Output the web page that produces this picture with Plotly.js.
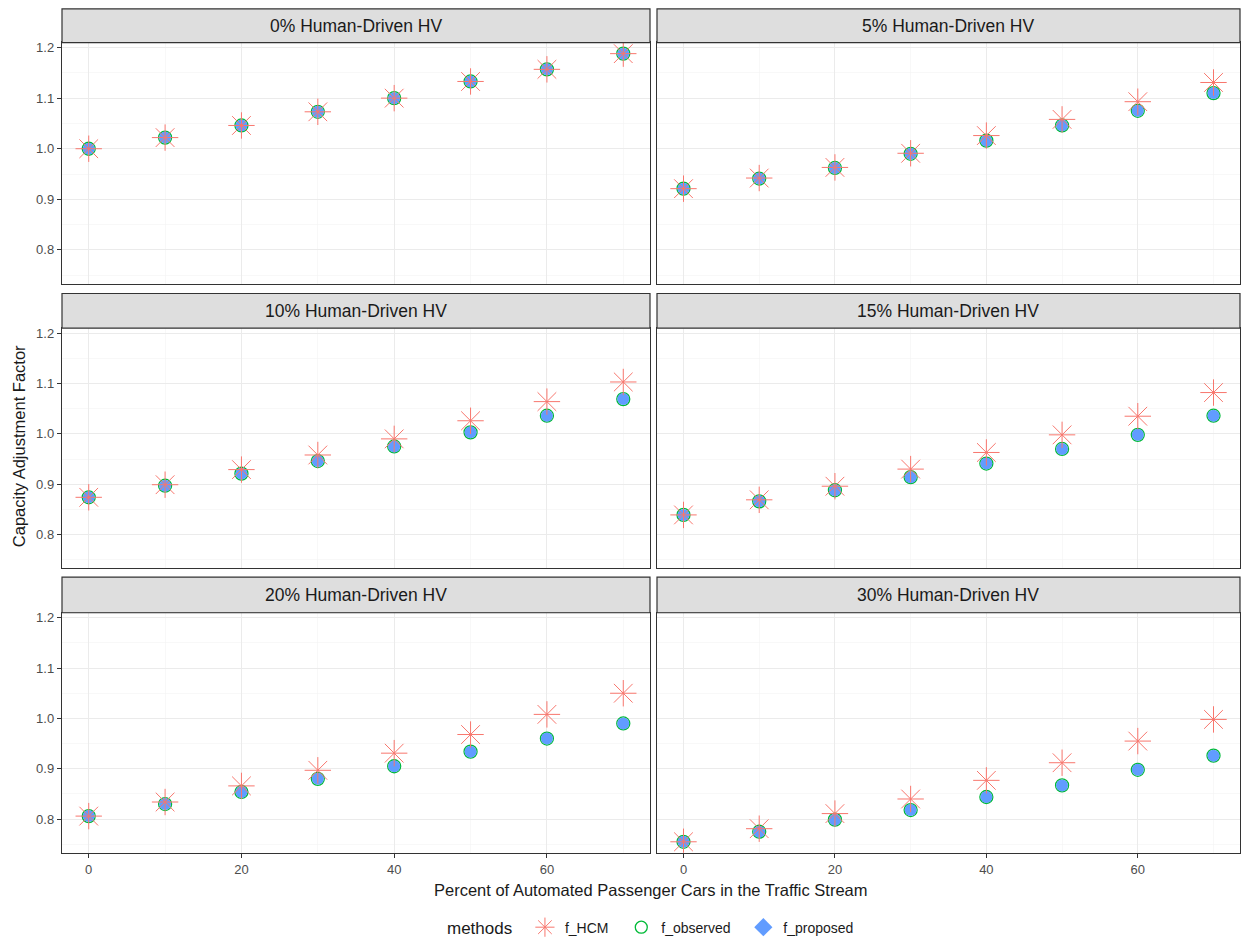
<!DOCTYPE html>
<html>
<head>
<meta charset="utf-8">
<script src="https://cdn.plot.ly/plotly-3.0.1.min.js"></script>
<style>html,body{margin:0;padding:0;background:#fff;}#chart{width:1242px;height:945px;}</style>
</head>
<body>
<div id="chart"></div>
<script>
// ---- data ----
const xPct = [0, 10, 20, 30, 40, 50, 60, 70];
const panelTitles = ['0% Human-Driven HV', '5% Human-Driven HV', '10% Human-Driven HV',
                     '15% Human-Driven HV', '20% Human-Driven HV', '30% Human-Driven HV'];
const methods = ['f_HCM', 'f_observed', 'f_proposed'];

const hcm_0  = [1.000, 1.022, 1.046, 1.073, 1.100, 1.133, 1.157, 1.188];
const obs_0  = [1.000, 1.022, 1.046, 1.073, 1.100, 1.133, 1.157, 1.188];
const prop_0 = [1.000, 1.022, 1.046, 1.073, 1.100, 1.133, 1.157, 1.188];

const hcm_5  = [0.921, 0.942, 0.963, 0.991, 1.026, 1.058, 1.093, 1.131];
const obs_5  = [0.921, 0.941, 0.962, 0.990, 1.016, 1.046, 1.075, 1.110];
const prop_5 = [0.921, 0.941, 0.962, 0.990, 1.016, 1.046, 1.075, 1.110];

const hcm_10  = [0.874, 0.899, 0.929, 0.958, 0.990, 1.026, 1.064, 1.103];
const obs_10  = [0.874, 0.897, 0.921, 0.946, 0.975, 1.003, 1.036, 1.069];
const prop_10 = [0.874, 0.897, 0.921, 0.946, 0.975, 1.003, 1.036, 1.069];

const hcm_15  = [0.839, 0.869, 0.896, 0.930, 0.963, 0.998, 1.035, 1.082];
const obs_15  = [0.839, 0.866, 0.888, 0.914, 0.941, 0.970, 0.998, 1.036];
const prop_15 = [0.839, 0.866, 0.888, 0.914, 0.941, 0.970, 0.998, 1.036];

const hcm_20  = [0.806, 0.834, 0.866, 0.897, 0.931, 0.968, 1.008, 1.050];
const obs_20  = [0.806, 0.830, 0.854, 0.880, 0.905, 0.934, 0.960, 0.990];
const prop_20 = [0.806, 0.830, 0.854, 0.880, 0.905, 0.934, 0.960, 0.990];

const hcm_30  = [0.755, 0.781, 0.811, 0.840, 0.877, 0.912, 0.955, 0.998];
const obs_30  = [0.755, 0.775, 0.799, 0.818, 0.844, 0.867, 0.898, 0.926];
const prop_30 = [0.755, 0.775, 0.799, 0.818, 0.844, 0.867, 0.898, 0.926];

const hcmSeries  = [hcm_0, hcm_5, hcm_10, hcm_15, hcm_20, hcm_30];
const obsSeries  = [obs_0, obs_5, obs_10, obs_15, obs_20, obs_30];
const propSeries = [prop_0, prop_5, prop_10, prop_15, prop_20, prop_30];

// ---- styles / geometry ----
const W = 1242, H = 945;
const colHCM = '#F8766D', colObs = '#00BA38', colProp = '#619CFF';
const colX = [[62, 650], [657, 1240]];            // pixel columns
const rowY = [[43, 286], [331, 573], [618, 860]];  // plot area rows (top,bottom)
const stripY = [[9, 43], [296, 331], [582, 618]];
const px = v => v / W;
const py = v => 1 - v / H;

const traces = [];
const layout = {
  width: W, height: H,
  margin: {l: 0, r: 0, t: 0, b: 0},
  paper_bgcolor: '#ffffff', plot_bgcolor: '#ffffff',
  font: {family: 'Liberation Sans, Arial, sans-serif', color: '#1A1A1A'},
  showlegend: true,
  legend: {
    orientation: 'h', x: px(652), xanchor: 'center', y: py(936), yanchor: 'middle',
    title: {text: 'methods ', font: {size: 17, color: '#1A1A1A'}, side: 'left'},
    font: {size: 14, color: '#1A1A1A'}, itemwidth: 30, tracegroupgap: 0,
    bgcolor: 'rgba(0,0,0,0)'
  },
  shapes: [], annotations: []
};

for (let i = 0; i < 6; i++) {
  const r = Math.floor(i / 2), c = i % 2;
  const sfx = i === 0 ? '' : String(i + 1);
  const xa = 'x' + sfx, ya = 'y' + sfx;
  const isBottom = r === 2, isLeft = c === 0;
  layout['xaxis' + sfx] = {
    domain: [px(colX[c][0]), px(colX[c][1])], anchor: ya,
    range: [-3.5, 73.5], tick0: 0, dtick: 20, zeroline: false,
    showgrid: true, gridcolor: '#EBEBEB', gridwidth: 1,
    minor: {tick0: 0, dtick: 10, showgrid: true, gridcolor: '#F4F4F4', gridwidth: 0.6},
    showline: true, mirror: true, linecolor: '#333333', linewidth: 1.2,
    ticks: isBottom ? 'outside' : '', ticklen: 4, tickwidth: 1, tickcolor: '#333333',
    showticklabels: isBottom, tickfont: {size: 13, color: '#4D4D4D'}
  };
  layout['yaxis' + sfx] = {
    domain: [py(rowY[r][1]), py(rowY[r][0])], anchor: xa,
    range: [0.7333, 1.2098], tick0: 0.8, dtick: 0.1, zeroline: false,
    showgrid: true, gridcolor: '#EBEBEB', gridwidth: 1,
    minor: {tick0: 0.75, dtick: 0.05, showgrid: true, gridcolor: '#F4F4F4', gridwidth: 0.6},
    showline: true, mirror: true, linecolor: '#333333', linewidth: 1.2,
    ticks: isLeft ? 'outside' : '', ticklen: 4, tickwidth: 1, tickcolor: '#333333',
    showticklabels: isLeft, tickformat: '.1f', tickfont: {size: 13, color: '#4D4D4D'}
  };
  // strip
  layout.shapes.push({
    type: 'rect', xref: 'paper', yref: 'paper', layer: 'above',
    x0: px(colX[c][0]), x1: px(colX[c][1]), y0: py(stripY[r][1]), y1: py(stripY[r][0]),
    fillcolor: '#DEDEDE', line: {color: '#333333', width: 1.2}
  });
  layout.annotations.push({
    text: panelTitles[i], xref: 'paper', yref: 'paper', showarrow: false,
    x: px((colX[c][0] + colX[c][1]) / 2), y: py((stripY[r][0] + stripY[r][1]) / 2),
    xanchor: 'center', yanchor: 'middle', font: {size: 17.5, color: '#1A1A1A'}
  });

  traces.push({
    type: 'scatter', mode: 'markers', x: xPct, y: obsSeries[i], xaxis: xa, yaxis: ya,
    name: methods[1], legendgroup: 'obs', showlegend: false,
    marker: {symbol: 'circle-open', size: 13, color: colObs, line: {color: colObs, width: 1.3}}
  });
  traces.push({
    type: 'scatter', mode: 'markers', x: xPct, y: propSeries[i], xaxis: xa, yaxis: ya,
    name: methods[2], legendgroup: 'prop', showlegend: false,
    marker: {symbol: 'circle', size: 12, color: colProp, line: {width: 0}}
  });
  traces.push({
    type: 'scatter', mode: 'markers', x: xPct, y: hcmSeries[i], xaxis: xa, yaxis: ya,
    name: methods[0], legendgroup: 'hcm', showlegend: false,
    marker: {symbol: 'asterisk-open', size: 22, color: colHCM, line: {color: colHCM, width: 1}}
  });
}

// legend entries (no data of their own)
traces.push({type: 'scatter', mode: 'markers', x: [null], y: [null], name: methods[0] + '  ', legendgroup: 'hcm',
  marker: {symbol: 'asterisk-open', size: 20, color: colHCM, line: {color: colHCM, width: 1}}});
traces.push({type: 'scatter', mode: 'markers', x: [null], y: [null], name: methods[1] + '  ', legendgroup: 'obs',
  marker: {symbol: 'circle-open', size: 12, color: colObs, line: {color: colObs, width: 1.3}}});
traces.push({type: 'scatter', mode: 'markers', x: [null], y: [null], name: methods[2], legendgroup: 'prop',
  marker: {symbol: 'diamond', size: 14, color: colProp, line: {width: 0}}});

// axis titles
layout.annotations.push({
  text: 'Percent of Automated Passenger Cars in the Traffic Stream', xref: 'paper', yref: 'paper',
  showarrow: false, x: px(651), y: py(898), xanchor: 'center', yanchor: 'middle',
  font: {size: 16.5, color: '#1A1A1A'}
});
layout.annotations.push({
  text: 'Capacity Adjustment Factor', xref: 'paper', yref: 'paper', textangle: -90,
  showarrow: false, x: px(19), y: py(450), xanchor: 'center', yanchor: 'middle',
  font: {size: 16.5, color: '#1A1A1A'}
});

Plotly.newPlot('chart', traces, layout, {displayModeBar: false, staticPlot: true});
</script>
</body>
</html>
